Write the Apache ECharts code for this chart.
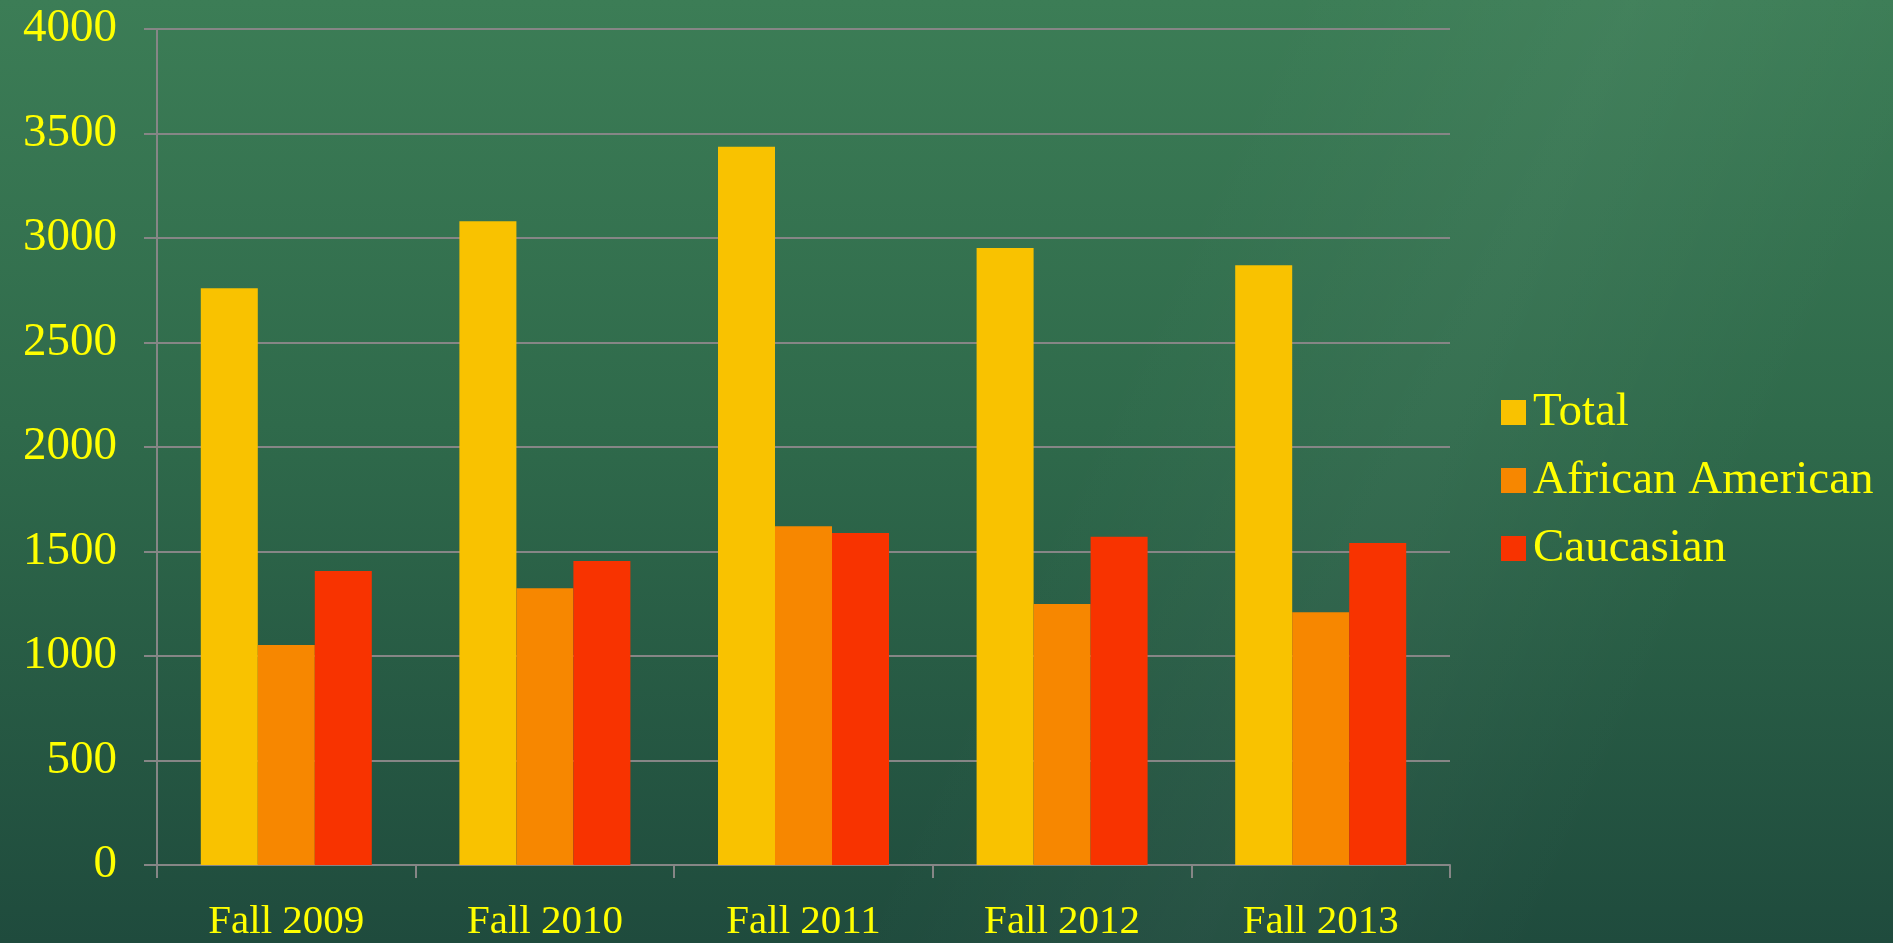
<!DOCTYPE html>
<html>
<head>
<meta charset="utf-8">
<script src="https://cdn.jsdelivr.net/npm/echarts@6/dist/echarts.min.js"></script>
<style>
    html, body {
        margin: 0;
        padding: 0;
        width: 100%;
        height: 100%;
        overflow: hidden;
    }
    body {
        background:
            linear-gradient(115deg, rgba(255,255,255,0) 55%, rgba(255,255,255,0.035) 70%, rgba(255,255,255,0) 85%),
            linear-gradient(180deg, #3c7d56 0%, #2f6a4b 45%, #1f4b3d 100%);
    }
    #chart {
        width: 1893px;
        height: 943px;
    }
</style>
</head>
<body>
<div id="chart"></div>
<script>
    // 学期
    const categories = ['Fall 2009', 'Fall 2010', 'Fall 2011', 'Fall 2012', 'Fall 2013'];
    const seriesNames = ['Total', 'African American', 'Caucasian'];
    const totalValues = [2760, 3080, 3437, 2952, 2870];
    const africanAmericanValues = [1053, 1324, 1621, 1249, 1209];
    const caucasianValues = [1407, 1455, 1589, 1571, 1541];
    const yTicks = [0, 500, 1000, 1500, 2000, 2500, 3000, 3500, 4000];

    const colors = ['#f9c200', '#f78700', '#f83300'];
    const textColor = '#ffff00';
    const lineColor = '#868686';
    const font = '"Liberation Serif", "DejaVu Serif", serif';

    const barSeries = (name, data) => ({
        name,
        type: 'bar',
        data,
        barWidth: 57,
        barGap: '0%',
        barCategoryGap: '34%'
    });

    let option = {
        color: colors,
        animation: false,
        grid: {
            left: 157,
            right: 443,
            top: 29,
            bottom: 77
        },
        legend: {
            orient: 'vertical',
            left: 1496,
            top: 384,
            icon: 'rect',
            itemWidth: 25,
            itemHeight: 25,
            itemGap: 21,
            data: seriesNames,
            textStyle: {
                color: textColor,
                fontFamily: font,
                fontSize: 47,
                padding: [0, 0, 0, 2]
            }
        },
        xAxis: {
            type: 'category',
            data: categories,
            axisLine: {
                lineStyle: {color: lineColor, width: 2}
            },
            axisTick: {
                show: true,
                length: 13,
                lineStyle: {color: lineColor, width: 2}
            },
            axisLabel: {
                color: textColor,
                fontFamily: font,
                fontSize: 41,
                margin: 37
            }
        },
        yAxis: {
            type: 'value',
            min: yTicks[0],
            max: yTicks[yTicks.length - 1],
            interval: yTicks[1] - yTicks[0],
            axisLine: {
                show: true,
                lineStyle: {color: lineColor, width: 2}
            },
            axisTick: {
                show: true,
                length: 13,
                lineStyle: {color: lineColor, width: 2}
            },
            splitLine: {
                lineStyle: {color: lineColor, width: 2}
            },
            axisLabel: {
                color: textColor,
                fontFamily: font,
                fontSize: 47,
                margin: 40,
                formatter: value => String(value)
            }
        },
        series: [
            barSeries(seriesNames[0], totalValues),
            barSeries(seriesNames[1], africanAmericanValues),
            barSeries(seriesNames[2], caucasianValues)
        ]
    };

    const chart = echarts.init(document.getElementById('chart'));
    chart.setOption(option);
</script>
</body>
</html>
